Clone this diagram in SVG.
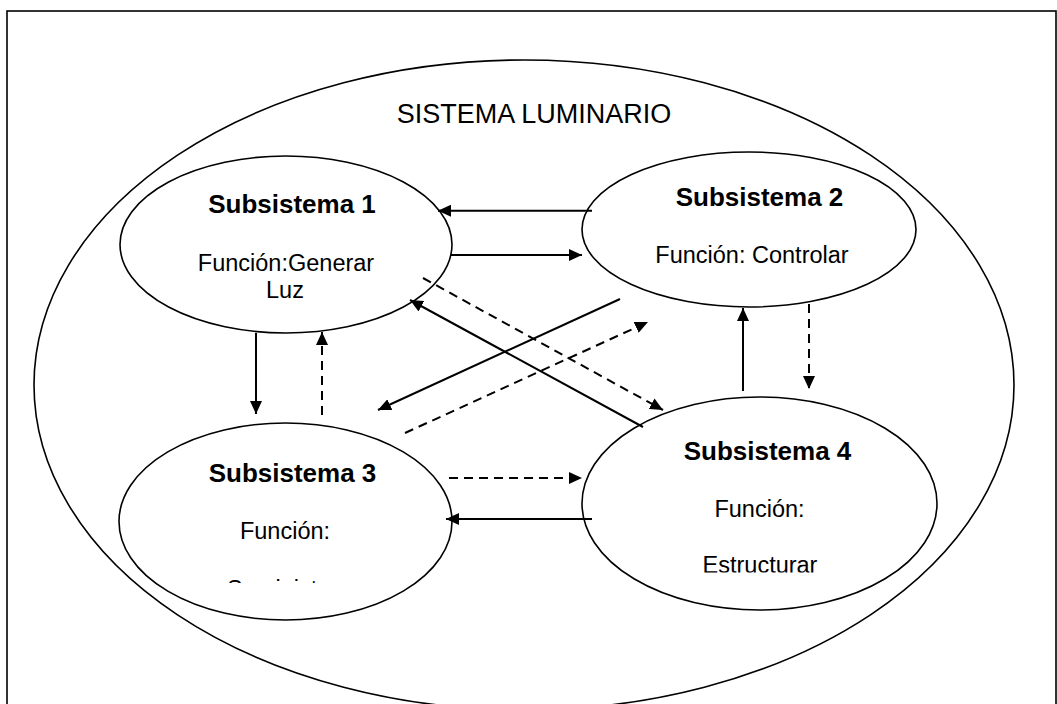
<svg xmlns="http://www.w3.org/2000/svg" width="1057" height="704" viewBox="0 0 1057 704">
<style>
.frame{fill:none;stroke:#000;stroke-width:1.6}
.ell{fill:#fff;stroke:#000;stroke-width:1.6}
.outer{fill:none;stroke:#000;stroke-width:1.6}
.title{font-family:"Liberation Sans",Arial,sans-serif;font-size:26px;font-weight:bold;text-anchor:middle;fill:#000}
.txt{font-family:"Liberation Sans",Arial,sans-serif;font-size:23.5px;text-anchor:middle;fill:#000}
.big{font-family:"Liberation Sans",Arial,sans-serif;font-size:27px;text-anchor:middle;fill:#000}
.c{fill:none;stroke:#000;stroke-width:2;marker-end:url(#ah)}
.d{stroke-dasharray:9 6}
</style>
<defs>
<marker id="ah" markerUnits="userSpaceOnUse" markerWidth="14" markerHeight="12" refX="13" refY="6" orient="auto">
<path d="M0,0 L13,6 L0,12 z" fill="#000"/>
</marker>
<clipPath id="clip3"><rect x="180" y="560" width="220" height="23"/></clipPath>
<clipPath id="clip4"><rect x="680" y="540" width="160" height="32.5"/></clipPath>
</defs>
<rect class="frame" x="7" y="11" width="1049" height="700"/>
<g id="sistema">
<ellipse class="outer" cx="524" cy="385" rx="490" ry="325"/>
<text class="big" x="534" y="123">SISTEMA LUMINARIO</text>
</g>
<g id="subsistema1">
<ellipse class="ell" cx="286" cy="244.5" rx="166" ry="88.5"/>
<text class="title" x="292" y="213">Subsistema 1</text>
<text class="txt" x="286" y="271">Función:Generar</text>
<text class="txt" x="285" y="298">Luz</text>
</g>
<g id="subsistema2">
<ellipse class="ell" cx="749" cy="229.5" rx="167" ry="77.5"/>
<text class="title" x="759.5" y="206">Subsistema 2</text>
<text class="txt" x="752" y="263">Función: Controlar</text>
</g>
<g id="subsistema3">
<ellipse class="ell" cx="285.5" cy="521.5" rx="166.5" ry="98.5"/>
<text class="title" x="292.5" y="482">Subsistema 3</text>
<text class="txt" x="285" y="539">Función:</text>
<text class="txt" x="286.5" y="597" clip-path="url(#clip3)">Suministrar</text>
</g>
<g id="subsistema4">
<ellipse class="ell" cx="759.5" cy="503.5" rx="177.5" ry="106.5"/>
<text class="title" x="767.5" y="460">Subsistema 4</text>
<text class="txt" x="759.5" y="517">Función:</text>
<text class="txt" x="760" y="573" clip-path="url(#clip4)">Estructurar</text>
</g>
<g id="connectors">
<line class="c" x1="592" y1="210.7" x2="438" y2="210.7"/>
<line class="c" x1="451" y1="255" x2="582" y2="255"/>
<line class="c d" x1="449" y1="478" x2="582" y2="478"/>
<line class="c" x1="592" y1="519" x2="446" y2="519"/>
<line class="c" x1="743" y1="391" x2="743" y2="308"/>
<line class="c d" x1="809" y1="304" x2="809" y2="389"/>
<line class="c" x1="256" y1="333" x2="256" y2="414"/>
<line class="c d" x1="322" y1="415" x2="322" y2="332"/>
<line class="c" x1="643" y1="427" x2="410" y2="300"/>
<line class="c" x1="620" y1="299" x2="378" y2="410"/>
<line class="c d" x1="423" y1="278" x2="663" y2="410"/>
<line class="c d" x1="405" y1="433" x2="648" y2="322"/>
</g>
</svg>
